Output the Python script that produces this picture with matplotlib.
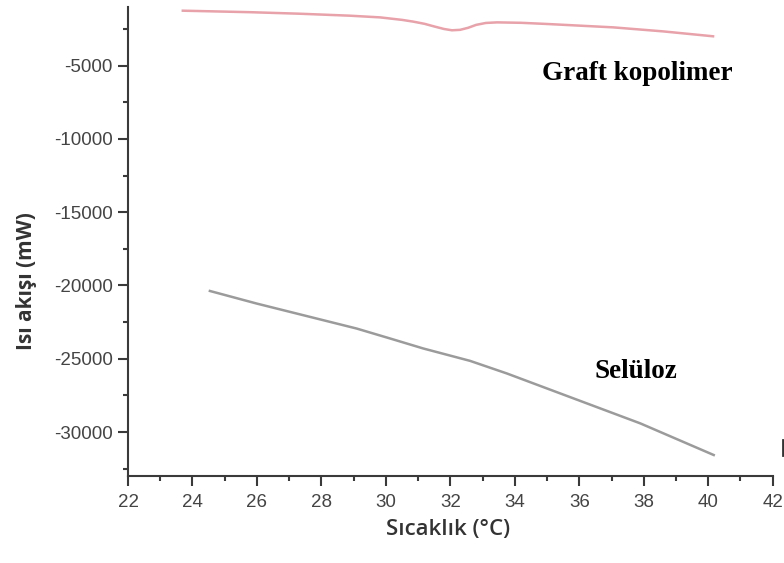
import matplotlib.pyplot as plt
from matplotlib.lines import Line2D
from matplotlib.ticker import MultipleLocator

plt.rcParams["axes.unicode_minus"] = False

# Heat flow curves (DSC), temperature in deg C, heat flow in mW
graft_temp = [23.70, 25.78, 27.33, 28.89, 29.82, 30.50, 30.85, 31.20, 31.50, 31.80, 32.05, 32.30, 32.55, 32.80, 33.10, 33.45, 34.20, 35.00, 37.05, 38.60, 40.15]
graft_flow = [-1253, -1355, -1460, -1595, -1710, -1880, -2000, -2150, -2330, -2500, -2590, -2560, -2420, -2220, -2090, -2050, -2080, -2160, -2390, -2665, -3000]

cell_temp = [24.54, 25.99, 28.06, 29.09, 30.13, 31.16, 32.61, 33.75, 35.82, 37.89, 40.17]
cell_flow = [-20375, -21233, -22371, -22937, -23617, -24299, -25143, -26001, -27704, -29407, -31567]

x_ticks = [22, 24, 26, 28, 30, 32, 34, 36, 38, 40, 42]
y_ticks = [-30000, -25000, -20000, -15000, -10000, -5000]

fig = plt.figure(figsize=(7.84, 5.63), dpi=100)
ax = fig.add_axes([0.1633, 0.1545, 0.8223, 0.8331])

ax.plot(graft_temp, graft_flow, color="#e7a2aa", lw=1.8, solid_joinstyle="round")
ax.plot(cell_temp, cell_flow, color="#9b9b9b", lw=1.8, solid_joinstyle="round")

ax.set_xlim(22, 42)
ax.set_ylim(-33000, -1000)
ax.set_xticks(x_ticks)
ax.set_yticks(y_ticks)
ax.xaxis.set_minor_locator(MultipleLocator(1))
ax.yaxis.set_minor_locator(MultipleLocator(2500))

for side in ["top", "right"]:
    ax.spines[side].set_visible(False)
for side in ["left", "bottom"]:
    ax.spines[side].set_color("#3a3a3a")
    ax.spines[side].set_linewidth(1.5)

ax.tick_params(which="major", direction="out", length=7, width=1.5, color="#3a3a3a",
               labelcolor="#444444", labelsize=13.5)
ax.tick_params(which="minor", direction="out", length=3.5, width=1.5, color="#3a3a3a")
ax.tick_params(axis="x", which="major", pad=6)
ax.tick_params(axis="y", which="major", pad=4)
for lbl in ax.get_xticklabels() + ax.get_yticklabels():
    lbl.set_fontfamily("Liberation Sans")

ax.set_xlabel("Sıcaklık (°C)", family="Open Sans", fontweight="semibold", fontsize=16, color="#333333")
ax.set_ylabel("Isı akışı (mW)", family="Open Sans", fontweight="bold", fontsize=15, color="#333333", va="center")
ax.xaxis.set_label_coords(0.496, -0.092)
ax.yaxis.set_label_coords(-0.157, 0.416)

ax.text(37.8, -5545, "Graft kopolimer", family="Liberation Serif", fontweight="bold",
        fontsize=19.5, ha="center", va="center", color="black")
ax.text(37.77, -25900, "Selüloz", family="Liberation Serif", fontweight="bold",
        fontsize=19.5, ha="center", va="center", color="black")

# clipped mark at the right edge
fig.add_artist(Line2D([0.9985, 0.9985], [1 - 455 / 563, 1 - 440 / 563], color="#333333", lw=2))

fig.savefig("out.png", dpi=100)
